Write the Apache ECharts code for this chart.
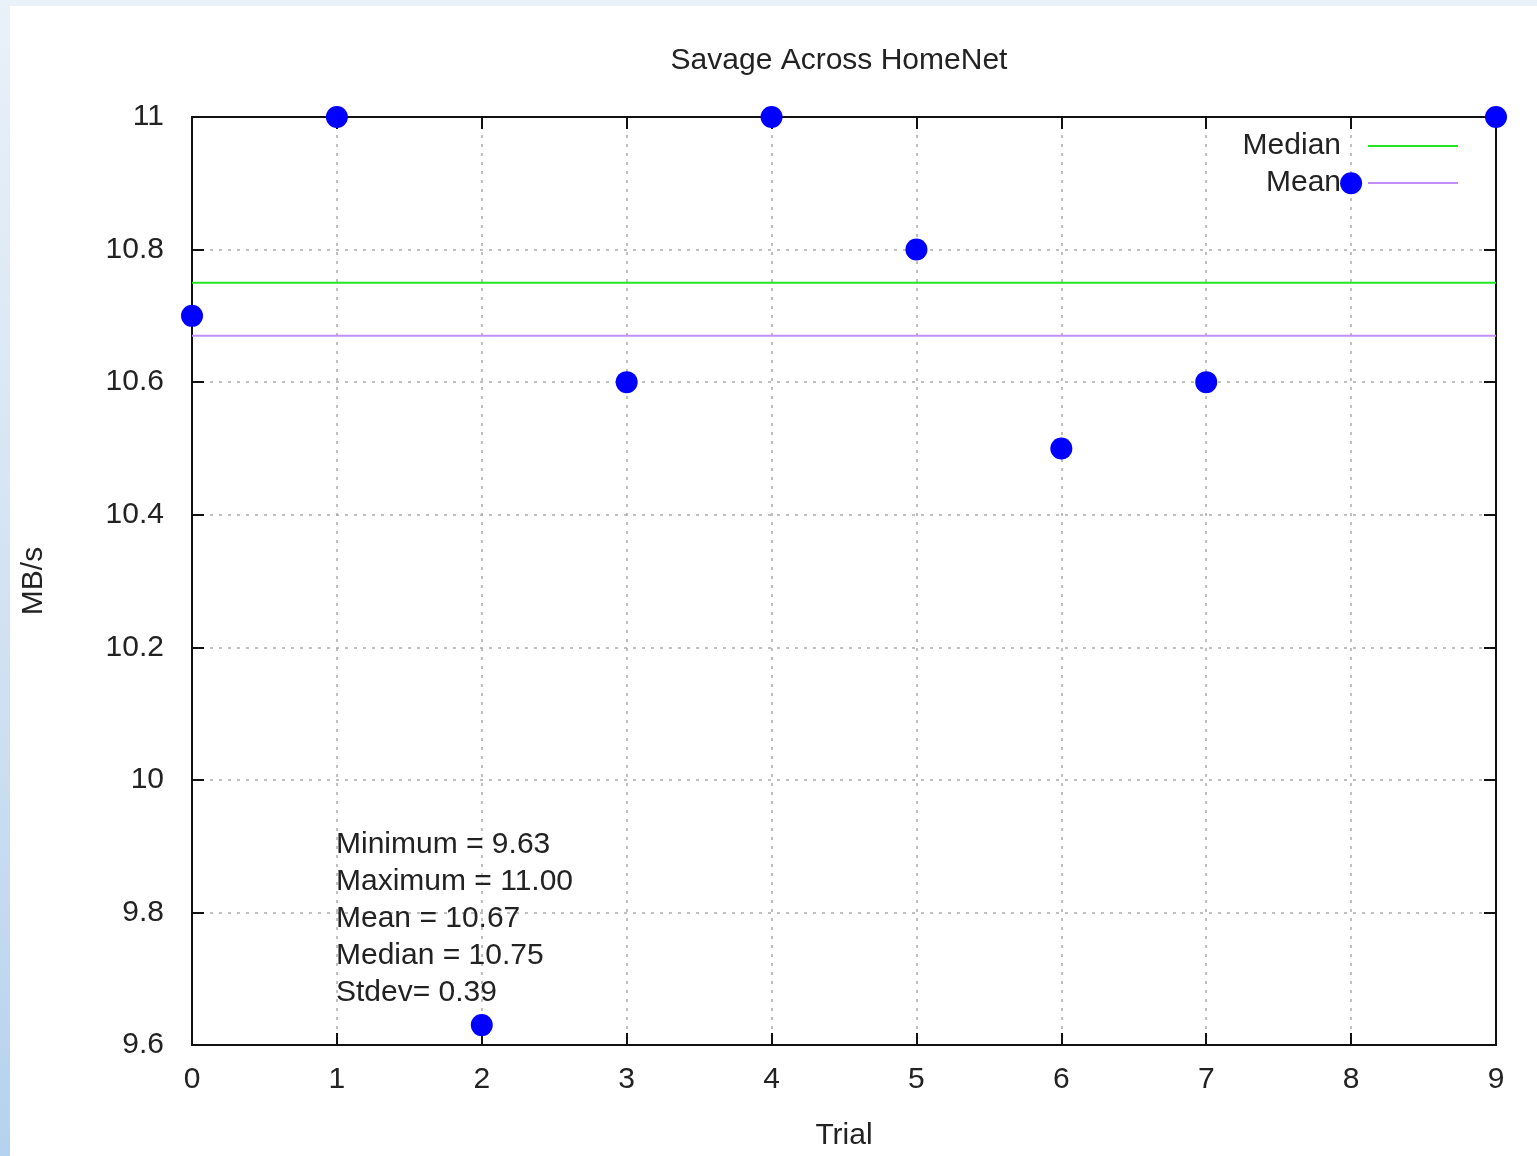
<!DOCTYPE html>
<html>
<head>
<meta charset="utf-8">
<script src="https://cdn.jsdelivr.net/npm/echarts@6/dist/echarts.min.js"></script>
<style>
  html, body { margin: 0; padding: 0; width: 1537px; height: 1156px; overflow: hidden; }
  body { background: linear-gradient(to bottom, #e9f1f9 0%, #cfe0f2 60%, #b5d2ee 100%); position: relative; }
  #panel { position: absolute; left: 10px; top: 6px; right: 0; bottom: 0; background: #fff; }
  #chart { position: absolute; left: 0; top: 0; width: 1537px; height: 1156px; }
</style>
</head>
<body>
<div id="panel"></div>
<div id="chart"></div>
<script>
// trials and measured throughput (MB/s)
var trials = [0, 1, 2, 3, 4, 5, 6, 7, 8, 9];
var speeds = [10.7, 11.0, 9.63, 10.6, 11.0, 10.8, 10.5, 10.6, 10.9, 11.0];
var medianVal = 10.75;
var meanVal = 10.67;
var statsLines = ['Minimum = 9.63', 'Maximum = 11.00', 'Mean = 10.67', 'Median = 10.75', 'Stdev= 0.39'];

var FONT = '"Liberation Sans", Arial, sans-serif';
var FS = 30;
var txt = '#222';

var chart = echarts.init(document.getElementById('chart'), null, { renderer: 'canvas' });

function axLine() { return { show: true, onZero: false, lineStyle: { color: '#111', width: 2 } }; }
function axTick() { return { show: true, inside: true, length: 12, lineStyle: { color: '#111', width: 2 } }; }
function gridLine() { return { show: true, lineStyle: { color: '#aaa', width: 1.5, type: [3, 6] } }; }

var option = {
    animation: false,
    textStyle: { fontFamily: FONT },
    title: {
        text: 'Savage Across HomeNet',
        left: 834, top: 41, textAlign: 'center',
        textStyle: { fontFamily: FONT, fontSize: FS, fontWeight: 'normal', color: txt }
    },
    legend: {
        orient: 'vertical',
        right: 74, top: 126,
        align: 'right',
        itemWidth: 90, itemHeight: 2,
        itemGap: 7,
        icon: 'rect',
        textStyle: { fontFamily: FONT, fontSize: FS, color: txt, padding: [0, 22, 0, 0] },
        data: ['Median', 'Mean']
    },
    grid: { left: 192, top: 117, width: 1304, height: 932, containLabel: false },
    xAxis: [{
        type: 'value', min: 0, max: 9, interval: 1, position: 'bottom',
        name: 'Trial', nameLocation: 'middle', nameGap: 76,
        nameTextStyle: { fontFamily: FONT, fontSize: FS, color: txt },
        axisLine: axLine(), axisTick: axTick(), splitLine: gridLine(),
        axisLabel: { fontFamily: FONT, fontSize: FS, color: txt, margin: 20 }
    }, {
        type: 'value', min: 0, max: 9, interval: 1, position: 'top',
        axisLine: axLine(), axisTick: axTick(), splitLine: { show: false }, axisLabel: { show: false }
    }],
    yAxis: [{
        type: 'value', min: 9.6, max: 11, interval: 0.2, position: 'left',
        name: 'MB/s', nameLocation: 'middle', nameGap: 143, nameRotate: 90,
        nameTextStyle: { fontFamily: FONT, fontSize: FS, color: txt },
        axisLine: axLine(), axisTick: axTick(), splitLine: gridLine(),
        axisLabel: {
            fontFamily: FONT, fontSize: FS, color: txt, margin: 28,
            formatter: function (v) { return String(parseFloat(v.toFixed(1))); }
        }
    }, {
        type: 'value', min: 9.6, max: 11, interval: 0.2, position: 'right',
        axisLine: axLine(), axisTick: axTick(), splitLine: { show: false }, axisLabel: { show: false }
    }],
    series: [
        {
            name: 'Median', type: 'line',
            data: [[0, medianVal], [9, medianVal]],
            showSymbol: false, symbol: 'none',
            lineStyle: { color: '#22e822', width: 2 },
            itemStyle: { color: '#22e822' },
            z: 2
        },
        {
            name: 'Mean', type: 'line',
            data: [[0, meanVal], [9, meanVal]],
            showSymbol: false, symbol: 'none',
            lineStyle: { color: '#c48cf8', width: 2 },
            itemStyle: { color: '#c48cf8' },
            z: 2
        },
        {
            name: 'Speed', type: 'scatter',
            data: trials.map(function (t, i) { return [t, speeds[i]]; }),
            symbol: 'circle', symbolSize: 22,
            itemStyle: { color: '#0000ff', opacity: 1 },
            clip: false,
            z: 5
        }
    ],
    graphic: [{
        type: 'text',
        left: 336, top: 826,
        style: {
            text: statsLines.join('\n'),
            font: FS + 'px ' + FONT,
            lineHeight: 37,
            fill: txt
        },
        z: 3
    }]
};

chart.setOption(option);
</script>
</body>
</html>
